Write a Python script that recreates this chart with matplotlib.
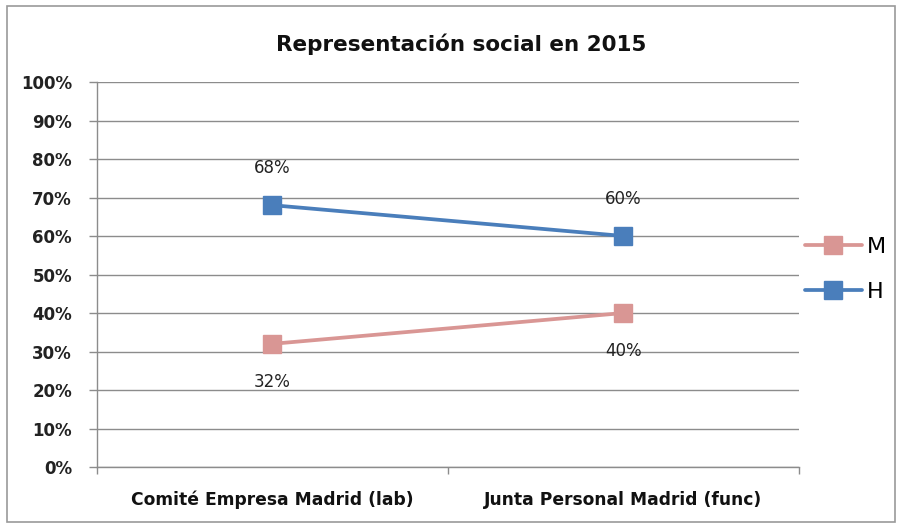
import matplotlib
matplotlib.use("Agg")
import matplotlib.pyplot as plt
from matplotlib.patches import Rectangle
from matplotlib.ticker import FixedLocator, PercentFormatter

categories = ["Comité Empresa Madrid (lab)", "Junta Personal Madrid (func)"]
series_names = ["M", "H"]
m_values = [0.32, 0.40]
h_values = [0.68, 0.60]
colors = {"M": "#D99694", "H": "#4A7EBB"}
yticks = [i / 10 for i in range(11)]

plt.rcParams['font.family'] = ['DejaVu Sans']

fig = plt.figure(figsize=(9.03, 5.28), dpi=100)
fig.patch.set_facecolor("white")
fig.add_artist(Rectangle((0.008, 0.012), 0.983, 0.976, transform=fig.transFigure,
                         fill=False, edgecolor="#9A9A9A", linewidth=1.2))

ax = fig.add_axes([0.1074, 0.1155, 0.7774, 0.7292])
x = list(range(len(categories)))

for name, vals in (("M", m_values), ("H", h_values)):
    ax.plot(x, vals, color=colors[name], linewidth=2.7, marker="s",
            markersize=13.5, label=name, zorder=3, solid_capstyle="round")

# data labels
for xi, v in zip(x, h_values):
    ax.annotate(f"{round(v*100)}%", (xi, v), xytext=(0, 26.5), textcoords="offset points",
                ha="center", va="center", fontsize=12, color="#222222")
for xi, v in zip(x, m_values):
    ax.annotate(f"{round(v*100)}%", (xi, v), xytext=(0, -27.5), textcoords="offset points",
                ha="center", va="center", fontsize=12, color="#222222")

ax.set_xlim(-0.5, len(categories) - 0.5)
ax.set_ylim(0, 1)
ax.yaxis.set_major_locator(FixedLocator(yticks))
ax.yaxis.set_major_formatter(PercentFormatter(1.0, decimals=0))
ax.grid(axis="y", color="#8C8C8C", linewidth=1.0, zorder=0)
ax.set_axisbelow(True)

ax.set_xticks(x)
ax.set_xticklabels(categories, fontsize=12.3, fontweight="bold", color="#111111")
ax.tick_params(axis="x", length=0, pad=17)
ax.set_xticks([-0.5, 0.5, 1.5], minor=True)
ax.tick_params(axis="x", which="minor", length=5, color="#8C8C8C", width=1)
ax.tick_params(axis="y", length=6, color="#8C8C8C", width=1, pad=12,
               labelsize=12, labelcolor="#222222")
for lbl in ax.get_yticklabels():
    lbl.set_fontweight("bold")

for side in ("top", "right"):
    ax.spines[side].set_visible(False)
for side in ("left", "bottom"):
    ax.spines[side].set_color("#8C8C8C")
    ax.spines[side].set_linewidth(1.0)

ax.set_title("Representación social en 2015", fontsize=15.5, fontweight="bold",
             color="#111111", pad=22, x=0.5185)

leg = fig.legend(handles=ax.get_lines(), labels=series_names, loc="center left",
                 bbox_to_anchor=(0.891, 0.4896), frameon=False,
                 handlelength=2.6, labelspacing=1.1, handletextpad=0.2,
                 borderpad=0, borderaxespad=0,
                 prop={"family": "DejaVu Sans", "size": 16})

fig.savefig("out.png", dpi=100, facecolor="white")
